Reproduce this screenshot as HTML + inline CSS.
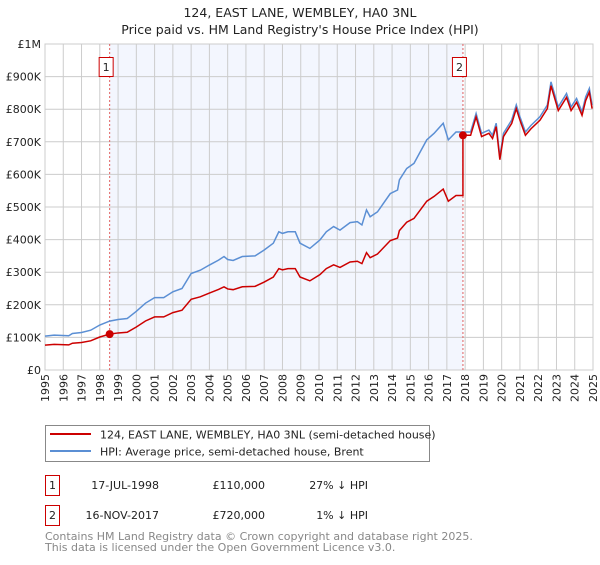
<!DOCTYPE html>
<html><head><meta charset="utf-8"><style>
body{margin:0;background:#fff;font-family:"Liberation Sans","DejaVu Sans",sans-serif;}
svg text{font-family:"DejaVu Sans","Liberation Sans",sans-serif;}
</style></head><body>
<svg id="chart" width="600" height="560" viewBox="0 0 600 560" xmlns="http://www.w3.org/2000/svg">
<text x="300" y="17" text-anchor="middle" font-size="12.5" fill="#222">124, EAST LANE, WEMBLEY, HA0 3NL</text>
<text x="300" y="34" text-anchor="middle" font-size="12.5" fill="#222">Price paid vs. HM Land Registry's House Price Index (HPI)</text>
<g id="plot"></g>
<g>
<rect x="45.5" y="425.5" width="384" height="36" fill="#fff" stroke="#888"/>
<line x1="50" y1="434" x2="91" y2="434" stroke="#cc0000" stroke-width="2"/>
<text x="100" y="438.5" font-size="11" fill="#222">124, EAST LANE, WEMBLEY, HA0 3NL (semi-detached house)</text>
<line x1="50" y1="451" x2="91" y2="451" stroke="#5b8fd4" stroke-width="2"/>
<text x="100" y="455.5" font-size="11" fill="#222">HPI: Average price, semi-detached house, Brent</text>
</g>
<g font-size="11" fill="#222">
<rect x="45.5" y="475.5" width="14" height="20" fill="#fff" stroke="#cc0000"/>
<text x="52.5" y="489" text-anchor="middle">1</text>
<text x="159" y="489" text-anchor="end">17-JUL-1998</text>
<text x="265" y="489" text-anchor="end">£110,000</text>
<text x="368" y="489" text-anchor="end">27% ↓ HPI</text>
<rect x="45.5" y="505.5" width="14" height="20" fill="#fff" stroke="#cc0000"/>
<text x="52.5" y="519" text-anchor="middle">2</text>
<text x="159" y="519" text-anchor="end">16-NOV-2017</text>
<text x="265" y="519" text-anchor="end">£720,000</text>
<text x="368" y="519" text-anchor="end">1% ↓ HPI</text>
</g>
<text x="45" y="540" font-size="11" fill="#888">Contains HM Land Registry data © Crown copyright and database right 2025.</text>
<text x="45" y="551" font-size="11" fill="#888">This data is licensed under the Open Government Licence v3.0.</text>
</svg>
<script>
const hpiYears=[1995.0,1995.5,1996.3,1996.5,1997.0,1997.5,1998.0,1998.54,1999.0,1999.5,2000.0,2000.5,2001.0,2001.5,2002.0,2002.5,2003.0,2003.5,2004.0,2004.5,2004.8,2005.0,2005.3,2005.8,2006.5,2007.0,2007.5,2007.8,2008.0,2008.3,2008.7,2008.96,2009.5,2010.05,2010.4,2010.8,2011.15,2011.7,2012.1,2012.35,2012.6,2012.8,2013.2,2013.9,2014.3,2014.4,2014.8,2015.2,2015.5,2015.9,2016.3,2016.8,2017.08,2017.5,2017.88,2018.3,2018.6,2018.9,2019.3,2019.5,2019.7,2019.9,2020.1,2020.55,2020.8,2021.0,2021.3,2021.6,2022.1,2022.5,2022.7,2023.1,2023.55,2023.8,2024.1,2024.4,2024.6,2024.8,2024.95];
const hpiValues=[104,107,105,112,115,122,138,150,155,158,180,205,222,222,240,250,296,306,322,337,348,339,336,348,350,368,389,424,419,424,424,389,373,399,424,440,429,452,455,445,491,470,485,541,552,583,618,634,665,706,726,757,706,730,730,730,787,726,736,720,757,654,726,767,813,777,730,750,777,813,884,807,848,807,833,792,838,864,813];
const saleYears=[1998.54,2017.88];
const salePrices=[110,720];
const saleLabels=["1","2"];
const yTicks=[0,100,200,300,400,500,600,700,800,900,1000];
const yTickLabels=["£0","£100K","£200K","£300K","£400K","£500K","£600K","£700K","£800K","£900K","£1M"];
const xTicks=[1995,1996,1997,1998,1999,2000,2001,2002,2003,2004,2005,2006,2007,2008,2009,2010,2011,2012,2013,2014,2015,2016,2017,2018,2019,2020,2021,2022,2023,2024,2025];

const NS="http://www.w3.org/2000/svg";
const L=45,R=593,T=44,B=370;
const xs=y=>L+(y-1995)/(2025-1995)*(R-L);
const ys=v=>B-v/1000*(B-T);
const g=document.getElementById('plot');
function mk(tag,attrs,parent){const e=document.createElementNS(NS,tag);for(const k in attrs)e.setAttribute(k,attrs[k]);(parent||g).appendChild(e);return e;}
const shade=mk('rect',{x:xs(saleYears[0]),y:T,width:xs(saleYears[1])-xs(saleYears[0]),height:B-T,fill:'#f3f6fe'});


xTicks.forEach(t=>{const l=mk('line',{x1:xs(t),x2:xs(t),y1:T,y2:B,stroke:'#cccccc','stroke-width':1});


const tx=mk('text',{transform:`translate(${xs(t)+4},${B+4}) rotate(-90)`,'text-anchor':'end','font-size':11,fill:'#222'});


tx.textContent=t;});
yTicks.forEach((t,i)=>{const l=mk('line',{x1:L,x2:R,y1:ys(t),y2:ys(t),stroke:'#cccccc','stroke-width':1});


const tx=mk('text',{x:L-4,y:ys(t)+4,'text-anchor':'end','font-size':11,fill:'#222'});


tx.textContent=yTickLabels[i];});
mk('rect',{x:L,y:T,width:R-L,height:B-T,fill:'none',stroke:'#cccccc'});
function hpiAt(y){for(let i=1;i<hpiYears.length;i++){if(y<=hpiYears[i]){const f=(y-hpiYears[i-1])/(hpiYears[i]-hpiYears[i-1]);return hpiValues[i-1]+f*(hpiValues[i]-hpiValues[i-1]);}}return hpiValues[hpiValues.length-1];}
const redPts=[];const r0=salePrices[0]/hpiAt(saleYears[0]);const r1=salePrices[1]/hpiAt(saleYears[1]);
hpiYears.forEach((y,i)=>{if(y<saleYears[1])redPts.push([y,hpiValues[i]*r0]);});
redPts.push([saleYears[1],hpiAt(saleYears[1])*r0]);
redPts.push([saleYears[1],salePrices[1]]);
hpiYears.forEach((y,i)=>{if(y>saleYears[1])redPts.push([y,hpiValues[i]*r1]);});
saleYears.forEach((y,i)=>{const l=mk('line',{x1:xs(y),x2:xs(y),y1:T,y2:B,stroke:'#e06060','stroke-width':1,'stroke-dasharray':'2,2'});


const bx=mk('rect',{x:xs(y)-10.5,y:57.5,width:14,height:19,fill:'#fff',stroke:'#cc0000'});


const t=mk('text',{x:xs(y)-3.5,y:71,'text-anchor':'middle','font-size':11,fill:'#222'});


t.textContent=saleLabels[i];});
const hp=mk('polyline',{points:hpiYears.map((y,i)=>xs(y)+','+ys(hpiValues[i])).join(' '),fill:'none',stroke:'#5b8fd4','stroke-width':1.5});


const rp=mk('polyline',{points:redPts.map(p=>xs(p[0])+','+ys(p[1])).join(' '),fill:'none',stroke:'#cc0000','stroke-width':1.5});


saleYears.forEach((y,i)=>{const c=mk('circle',{cx:xs(y),cy:ys(salePrices[i]),r:4,fill:'#cc0000'});

});
</script>
</body></html>
